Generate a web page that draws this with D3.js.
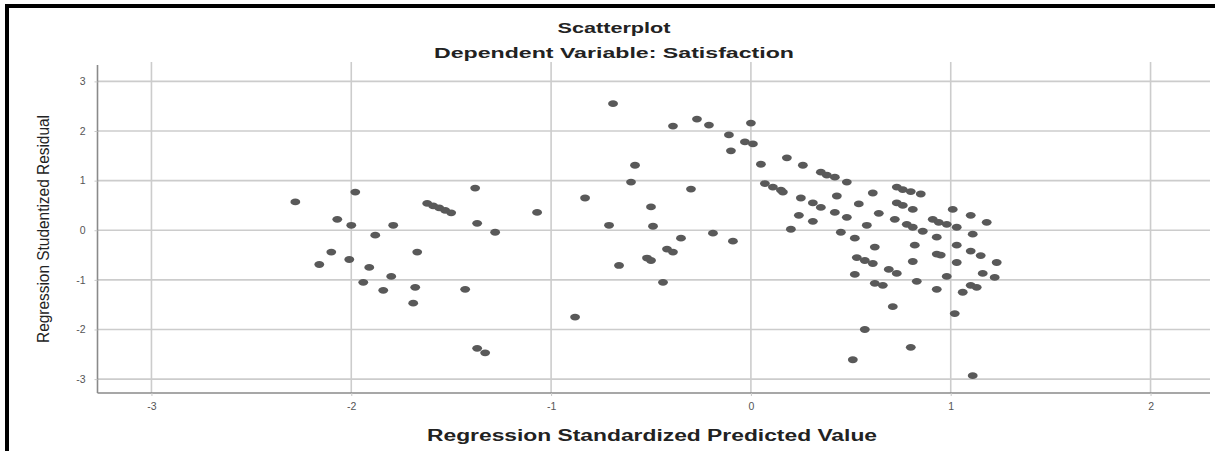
<!DOCTYPE html>
<html>
<head>
<meta charset="utf-8">
<script src="https://cdn.jsdelivr.net/npm/d3@7"></script>
<style>
  html, body { margin: 0; padding: 0; background: #fff; }
  svg { display: block; }
</style>
</head>
<body>
<script>
// ---- data ----
const titleText = "Scatterplot";
const subtitleText = "Dependent Variable: Satisfaction";
const xAxisTitle = "Regression Standardized Predicted Value";
const yAxisTitle = "Regression Studentized Residual";
const xTicks = [-3, -2, -1, 0, 1, 2];
const yTicks = [-3, -2, -1, 0, 1, 2, 3];

const predicted = [
  -2.28, -1.98, -2.07, -2.00, -1.79, -1.88, -2.10, -2.16, -2.01, -1.91,
  -1.94, -1.84, -1.80, -1.68, -1.69, -1.67, -1.62, -1.59, -1.56, -1.53,
  -1.50, -1.38, -1.37, -1.28, -1.43, -0.88, -1.37, -1.33, -1.07,
  -0.69, -0.39, -0.27, -0.21, 0.00, -0.11, -0.03, 0.01, -0.10, -0.58,
  -0.60, -0.30, -0.83, -0.50, -0.71, -0.49, -0.35, -0.19, -0.09, -0.42,
  -0.39, -0.52, -0.50, -0.66, -0.44,
  0.05, 0.18, 0.26, 0.35, 0.38, 0.42, 0.48, 0.07, 0.11, 0.15,
  0.16, 0.25, 0.31, 0.35, 0.43, 0.24, 0.31, 0.42, 0.48, 0.20,
  0.45, 0.52, 0.54, 0.61, 0.58, 0.64, 0.62, 0.72, 0.73, 0.76,
  0.80, 0.85, 0.73, 0.76, 0.81, 0.78, 0.81, 0.86, 0.82, 0.81,
  0.83, 0.53, 0.57, 0.61, 0.69, 0.73, 0.52, 0.62, 0.66, 0.71,
  0.57, 0.51, 0.80, 0.91, 0.94, 0.98, 1.03, 1.01, 1.10, 1.18,
  0.93, 1.03, 1.11, 0.93, 0.95, 1.03, 1.10, 1.15, 1.23, 0.98,
  0.93, 1.06, 1.10, 1.13, 1.16, 1.22, 1.02, 1.11
];
const residual = [
  0.57, 0.77, 0.22, 0.10, 0.10, -0.10, -0.44, -0.69, -0.59, -0.75,
  -1.05, -1.21, -0.93, -1.15, -1.47, -0.44, 0.54, 0.49, 0.45, 0.40,
  0.35, 0.85, 0.14, -0.04, -1.19, -1.75, -2.38, -2.47, 0.36,
  2.55, 2.10, 2.24, 2.12, 2.16, 1.92, 1.78, 1.74, 1.60, 1.31,
  0.97, 0.83, 0.65, 0.47, 0.10, 0.08, -0.16, -0.06, -0.22, -0.38,
  -0.44, -0.56, -0.61, -0.71, -1.05,
  1.33, 1.46, 1.31, 1.17, 1.11, 1.07, 0.97, 0.94, 0.87, 0.81,
  0.77, 0.65, 0.55, 0.46, 0.69, 0.30, 0.18, 0.36, 0.26, 0.02,
  -0.04, -0.16, 0.53, 0.75, 0.10, 0.34, -0.34, 0.22, 0.87, 0.82,
  0.78, 0.73, 0.55, 0.50, 0.42, 0.12, 0.06, -0.02, -0.30, -0.63,
  -1.03, -0.55, -0.61, -0.67, -0.79, -0.87, -0.89, -1.07, -1.11, -1.54,
  -2.00, -2.61, -2.36, 0.22, 0.16, 0.12, 0.06, 0.42, 0.30, 0.16,
  -0.14, -0.30, -0.08, -0.48, -0.50, -0.65, -0.42, -0.51, -0.65, -0.93,
  -1.19, -1.25, -1.11, -1.15, -0.87, -0.95, -1.68, -2.93
];

// ---- layout ----
const W = 1215, H = 451;
const svg = d3.select("body").append("svg")
  .attr("width", W).attr("height", H);

// outer black frame (clipped by the page on right and bottom)
svg.append("rect")
  .attr("x", 7).attr("y", 6)
  .attr("width", W + 20).attr("height", H + 20)
  .attr("fill", "none").attr("stroke", "#000").attr("stroke-width", 4);

const x = d3.scaleLinear().domain([-3.27, 2.29]).range([97.5, 1208.5]);
const y = d3.scaleLinear().domain([-3.28, 3.33]).range([393, 65]);

const gridColor = "#cccccc";

// horizontal gridlines
svg.append("g").selectAll("line").data(yTicks).join("line")
  .attr("x1", x.range()[0]).attr("x2", 1210)
  .attr("y1", d => y(d)).attr("y2", d => y(d))
  .attr("stroke", gridColor).attr("stroke-width", 1.6);

// vertical gridlines
svg.append("g").selectAll("line").data(xTicks).join("line")
  .attr("x1", d => x(d)).attr("x2", d => x(d))
  .attr("y1", 62).attr("y2", 393)
  .attr("stroke", gridColor).attr("stroke-width", 1.6);

// axes via d3 axis generators
const xAxis = svg.append("g")
  .attr("transform", `translate(0,${y.range()[0]})`)
  .call(d3.axisBottom(x).tickValues(xTicks).tickSize(3).tickPadding(7)
        .tickFormat(d3.format("d")));
const yAxis = svg.append("g")
  .attr("transform", `translate(${x.range()[0]},0)`)
  .call(d3.axisLeft(y).tickValues(yTicks).tickSize(3).tickPadding(9)
        .tickFormat(d3.format("d")));

[xAxis, yAxis].forEach(g => {
  g.select(".domain").attr("stroke", "#8a8a8a").attr("stroke-width", 1.6);
  g.selectAll(".tick line").attr("stroke", "#c8c8c8").attr("stroke-width", 1);
  g.selectAll(".tick text")
    .attr("fill", "#555")
    .style("font-family", "'Liberation Sans Narrow', 'Liberation Sans', Arial, sans-serif")
    .style("font-size", "10.5px")
    .text(d => d < 0 ? "-" + Math.abs(d) : String(d));
});
xAxis.select(".domain").attr("d", `M${x.range()[0]},0H1210`);
yAxis.select(".domain").attr("d", `M0,${y.range()[0]}V65`);

// points
svg.append("g").selectAll("ellipse")
  .data(predicted.map((p, i) => [p, residual[i]]))
  .join("ellipse")
  .attr("cx", d => x(d[0])).attr("cy", d => y(d[1]))
  .attr("rx", 4.9).attr("ry", 3.4)
  .attr("fill", "#595959");

// titles
const fontFam = "'Liberation Sans', Arial, sans-serif";
svg.append("text")
  .attr("x", 614).attr("y", 33)
  .attr("text-anchor", "middle")
  .style("font-family", fontFam).style("font-weight", "bold").style("font-size", "15px")
  .attr("fill", "#222")
  .attr("textLength", 113).attr("lengthAdjust", "spacingAndGlyphs")
  .text(titleText);

svg.append("text")
  .attr("x", 614).attr("y", 58)
  .attr("text-anchor", "middle")
  .style("font-family", fontFam).style("font-weight", "bold").style("font-size", "15px")
  .attr("fill", "#222")
  .attr("textLength", 360).attr("lengthAdjust", "spacingAndGlyphs")
  .text(subtitleText);

svg.append("text")
  .attr("x", 652).attr("y", 441)
  .attr("text-anchor", "middle")
  .style("font-family", fontFam).style("font-weight", "bold").style("font-size", "16px")
  .attr("fill", "#222")
  .attr("textLength", 450).attr("lengthAdjust", "spacingAndGlyphs")
  .text(xAxisTitle);

svg.append("text")
  .attr("transform", "translate(49,229) rotate(-90)")
  .attr("text-anchor", "middle")
  .style("font-family", fontFam).style("font-size", "16px")
  .attr("fill", "#222")
  .attr("textLength", 228).attr("lengthAdjust", "spacingAndGlyphs")
  .text(yAxisTitle);
</script>
</body>
</html>
